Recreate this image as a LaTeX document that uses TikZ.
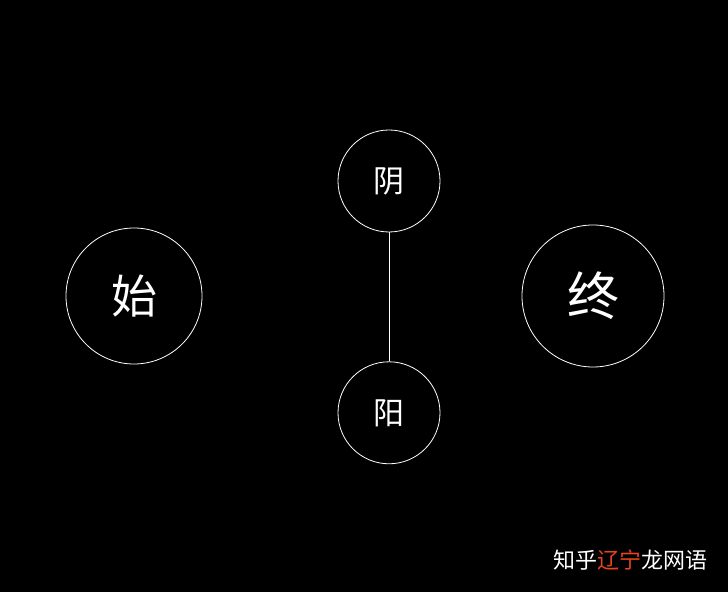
\documentclass[tikz,border=0pt]{standalone}
\usepackage{fontspec}
\setmainfont{Noto Sans CJK SC}
\usetikzlibrary{positioning}

\tikzset{
    ball/.style={draw=white, line width=0.8pt, circle, inner sep=0pt, text=white}
}

\begin{document}
\begin{tikzpicture}[x=1pt, y=1pt, node distance=129pt]
    % Background
    \fill[black] (0,0) rectangle (728,592);
    \useasboundingbox (0,0) rectangle (728,592);

    % Start and end
    \node [ball, minimum size=136pt, font=\fontsize{46}{46}\selectfont] (shi) at (134,296) {始};
    \node [ball, minimum size=142pt, font=\fontsize{52}{52}\selectfont] (zhong) at (593,296) {终};

    % Yin and yang
    \node [ball, minimum size=102pt, font=\fontsize{31}{31}\selectfont] (yin) at (389,411) {阴};
    \node [ball, minimum size=102pt, font=\fontsize{31}{31}\selectfont, below=of yin] (yang) {阳};
    \draw [white, line width=0.8pt] (yin) -- (yang);

    % Watermark
    \node [font=\fontsize{22}{22}\selectfont, text=white] (mark) at (630,32)
        {知乎\textcolor[HTML]{E8441C}{辽宁}龙网语};
\end{tikzpicture}
\end{document}
